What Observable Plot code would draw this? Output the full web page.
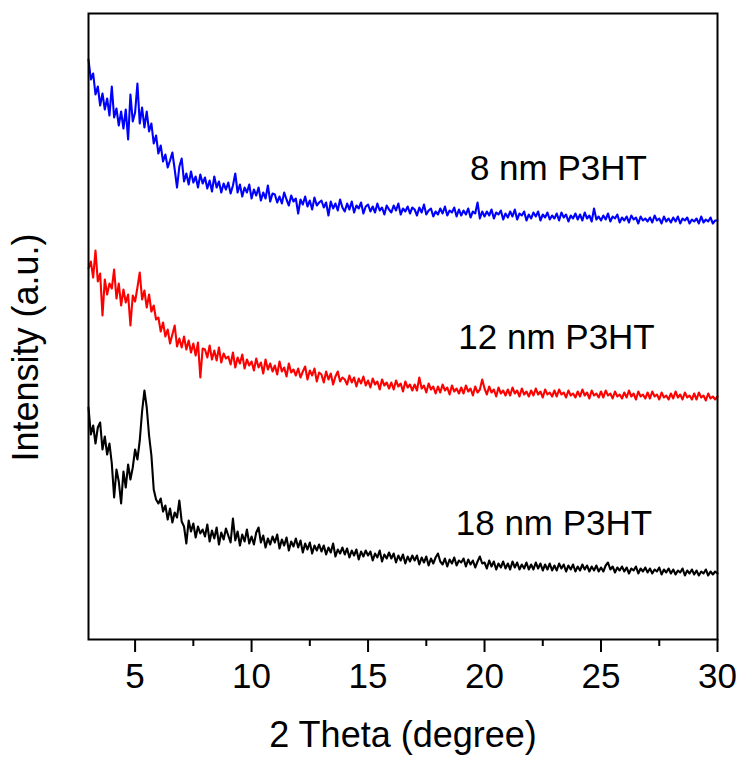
<!DOCTYPE html>
<html>
<head>
<meta charset="utf-8">
<script src="https://cdn.jsdelivr.net/npm/d3@7"></script>
<script src="https://cdn.jsdelivr.net/npm/@observablehq/plot@0.6"></script>
<style>
  html, body { margin: 0; padding: 0; background: #fff; }
</style>
</head>
<body>
<div id="chart"></div>
<script>
// 2θ grid (degrees), 0.1° steps from 3.0 to 30.0
const twoTheta = d3.range(271).map(i => +(3 + i * 0.1).toFixed(1));

// Intensity (a.u.)
const p3ht8nm = [
  580, 560, 566, 545, 553, 534, 546, 530, 541, 524,
  553, 522, 531, 514, 528, 511, 530, 500, 545, 518,
  527, 556, 516, 532, 512, 528, 508, 516, 496, 504,
  486, 494, 478, 485, 472, 479, 487, 470, 452, 473,
  481, 458, 466, 455, 468, 457, 463, 452, 465, 456,
  462, 451, 459, 448, 463, 452, 458, 447, 456, 450,
  457, 446, 454, 466, 447, 455, 443, 452, 447, 455,
  441, 450, 444, 452, 439, 447, 441, 454, 438, 446,
  445, 437, 443, 436, 447, 440, 434, 444, 438, 441,
  426, 440, 435, 443, 433, 439, 430, 442, 434, 437,
  439, 432, 437, 424, 438, 431, 436, 429, 440, 432,
  428, 436, 430, 438, 427, 434, 431, 437, 426, 433,
  435, 428, 433, 427, 436, 429, 432, 425, 434, 430,
  427, 434, 429, 436, 425, 431, 428, 433, 426, 432,
  430, 424, 432, 427, 435, 425, 429, 431, 423, 428,
  425, 431, 426, 433, 424, 429, 427, 432, 423, 430,
  424, 429, 425, 431, 422, 428, 426, 437, 421, 428,
  423, 428, 424, 430, 421, 427, 425, 429, 420, 426,
  422, 428, 423, 430, 420, 426, 424, 428, 419, 425,
  421, 427, 423, 428, 419, 425, 422, 427, 420, 424,
  421, 426, 419, 427, 422, 425, 418, 424, 421, 426,
  420, 425, 419, 427, 421, 424, 418, 431, 420, 423,
  419, 424, 420, 426, 418, 423, 421, 425, 417, 422,
  419, 423, 417, 424, 420, 422, 416, 423, 419, 421,
  418, 422, 417, 424, 419, 421, 416, 423, 418, 421,
  417, 422, 418, 423, 416, 421, 419, 422, 416, 420,
  418, 421, 416, 423, 417, 420, 418, 422, 416, 419,
  419
];
const p3ht12nm = [
  371, 378, 362, 389, 358, 366, 324, 360, 345, 356,
  351, 370, 341, 356, 334, 350, 337, 345, 314, 344,
  338, 352, 367, 340, 349, 332, 345, 328, 334, 320,
  322, 308, 317, 303, 310, 296, 305, 314, 293, 301,
  292, 303, 290, 299, 287, 296, 284, 297, 262, 291,
  290, 282, 294, 280, 289, 279, 292, 277, 286, 281,
  283, 275, 287, 272, 282, 276, 285, 271, 280, 274,
  278, 269, 281, 272, 277, 266, 280, 270, 276, 268,
  274, 265, 278, 268, 272, 263, 276, 267, 270, 264,
  271, 262, 268, 273, 260, 269, 264, 271, 258, 267,
  265, 257, 268, 260, 266, 255, 263, 268, 258, 262,
  260, 255, 264, 257, 262, 253, 261, 256, 263, 254,
  259, 252, 261, 255, 258, 250, 260, 254, 257, 251,
  257, 250, 259, 253, 256, 248, 258, 252, 255, 249,
  255, 249, 262, 251, 254, 247, 256, 250, 253, 246,
  253, 247, 255, 249, 252, 245, 254, 248, 251, 246,
  252, 246, 254, 248, 251, 244, 253, 247, 250, 260,
  251, 245, 253, 247, 250, 243, 252, 246, 249, 244,
  250, 244, 252, 246, 249, 243, 251, 245, 248, 243,
  249, 244, 251, 245, 248, 242, 250, 245, 247, 243,
  249, 243, 250, 245, 247, 242, 249, 244, 246, 242,
  248, 243, 250, 244, 247, 241, 249, 244, 246, 242,
  248, 242, 249, 244, 246, 241, 248, 243, 245, 241,
  247, 242, 249, 243, 246, 240, 248, 243, 245, 241,
  247, 241, 248, 243, 245, 240, 247, 242, 244, 240,
  246, 241, 248, 242, 245, 240, 247, 242, 244, 240,
  246, 240, 247, 242, 244, 239, 246, 241, 243, 240,
  243
];
const p3ht18nm = [
  232, 205, 214, 196, 212, 217, 190, 203, 185, 196,
  176, 142, 170, 158, 136, 168, 152, 175, 160, 172,
  190, 180, 199, 228, 249, 232, 204, 184, 150, 140,
  136, 141, 128, 134, 120, 131, 117, 127, 122, 139,
  118, 113, 96, 119, 108, 116, 102, 113, 106, 110,
  103, 115, 98, 109, 101, 112, 95, 107, 100, 111,
  104, 97, 121, 99, 108, 94, 105, 98, 110, 96,
  103, 95, 107, 112, 97, 104, 92, 101, 95, 103,
  97, 105, 91, 100, 94, 102, 89, 98, 93, 101,
  92, 99, 87, 96, 90, 97, 86, 94, 89, 95,
  88, 94, 85, 92, 87, 96, 83, 90, 86, 92,
  85, 91, 82, 89, 84, 90, 80, 88, 83, 89,
  84, 88, 79, 86, 82, 89, 78, 85, 81, 87,
  81, 86, 77, 84, 79, 85, 76, 83, 78, 84,
  79, 84, 75, 82, 77, 83, 74, 81, 76, 82,
  86, 78, 75, 81, 73, 80, 76, 82, 74, 79,
  77, 81, 73, 80, 75, 79, 72, 78, 83, 76,
  77, 71, 79, 73, 78, 70, 76, 72, 78, 71,
  76, 70, 78, 72, 77, 70, 75, 71, 77, 70,
  75, 70, 77, 71, 76, 69, 75, 70, 76, 69,
  74, 69, 76, 71, 75, 68, 74, 70, 75, 68,
  73, 69, 75, 70, 74, 68, 73, 69, 74, 68,
  72, 68, 74, 77, 70, 73, 67, 72, 69, 73,
  68, 72, 66, 71, 69, 73, 66, 71, 68, 72,
  67, 71, 66, 70, 68, 72, 65, 70, 67, 71,
  66, 70, 65, 69, 67, 71, 64, 69, 66, 70,
  65, 69, 64, 68, 66, 70, 64, 68, 65, 68,
  66
];

const seriesNames = ["8 nm P3HT", "12 nm P3HT", "18 nm P3HT"];
const seriesColors = ["#0000FF", "#FF0000", "#000000"];
const majorTicks = [5, 10, 15, 20, 25, 30];
const minorTicks = [7.5, 12.5, 17.5, 22.5, 27.5];
const xTitle = "2 Theta (degree)";
const yTitle = "Intensity (a.u.)";

// annotation anchors (data coordinates)
const labelTheta = [23.17, 23.09, 22.98];
const labelIntensity = [460, 291, 105];

const seriesValues = [p3ht8nm, p3ht12nm, p3ht18nm];
const rows = seriesValues.flatMap((vals, s) =>
  vals.map((v, i) => ({theta: twoTheta[i], intensity: v, series: seriesNames[s]})));
const labels = seriesNames.map((name, i) => ({name, theta: labelTheta[i], intensity: labelIntensity[i]}));

const font = "'Liberation Sans', Arial, Helvetica, sans-serif";

const chart = Plot.plot({
  width: 739,
  height: 758,
  marginLeft: 88,
  marginRight: 22,
  marginTop: 13,
  marginBottom: 119,
  style: {fontFamily: font, fontSize: "35px", color: "#000", background: "#fff", overflow: "visible"},
  x: {domain: [3, 30], label: null},
  y: {domain: [0, 626], axis: null},
  color: {domain: seriesNames, range: seriesColors},
  marks: [
    Plot.line(rows, {x: "theta", y: "intensity", z: "series", stroke: "series", strokeWidth: 2.1}),
    Plot.frame({stroke: "#000", strokeWidth: 2}),
    Plot.axisX(majorTicks, {tickSize: 13, tickPadding: 11, strokeWidth: 2, label: null, fontSize: 35}),
    Plot.axisX(minorTicks, {tickSize: 7, strokeWidth: 2, tickFormat: () => "", label: null}),
    Plot.text(labels, {x: "theta", y: "intensity", text: "name", textAnchor: "middle", lineAnchor: "bottom", fontSize: 35, fill: "#000"}),
    Plot.text([xTitle], {frameAnchor: "bottom", dy: 107, lineAnchor: "bottom", textAnchor: "middle", fontSize: 36, fill: "#000"}),
    Plot.text([yTitle], {frameAnchor: "left", dx: -51, dy: 21, rotate: -90, lineAnchor: "bottom", textAnchor: "middle", fontSize: 36, fill: "#000"})
  ]
});
document.getElementById("chart").appendChild(chart);
</script>
</body>
</html>
